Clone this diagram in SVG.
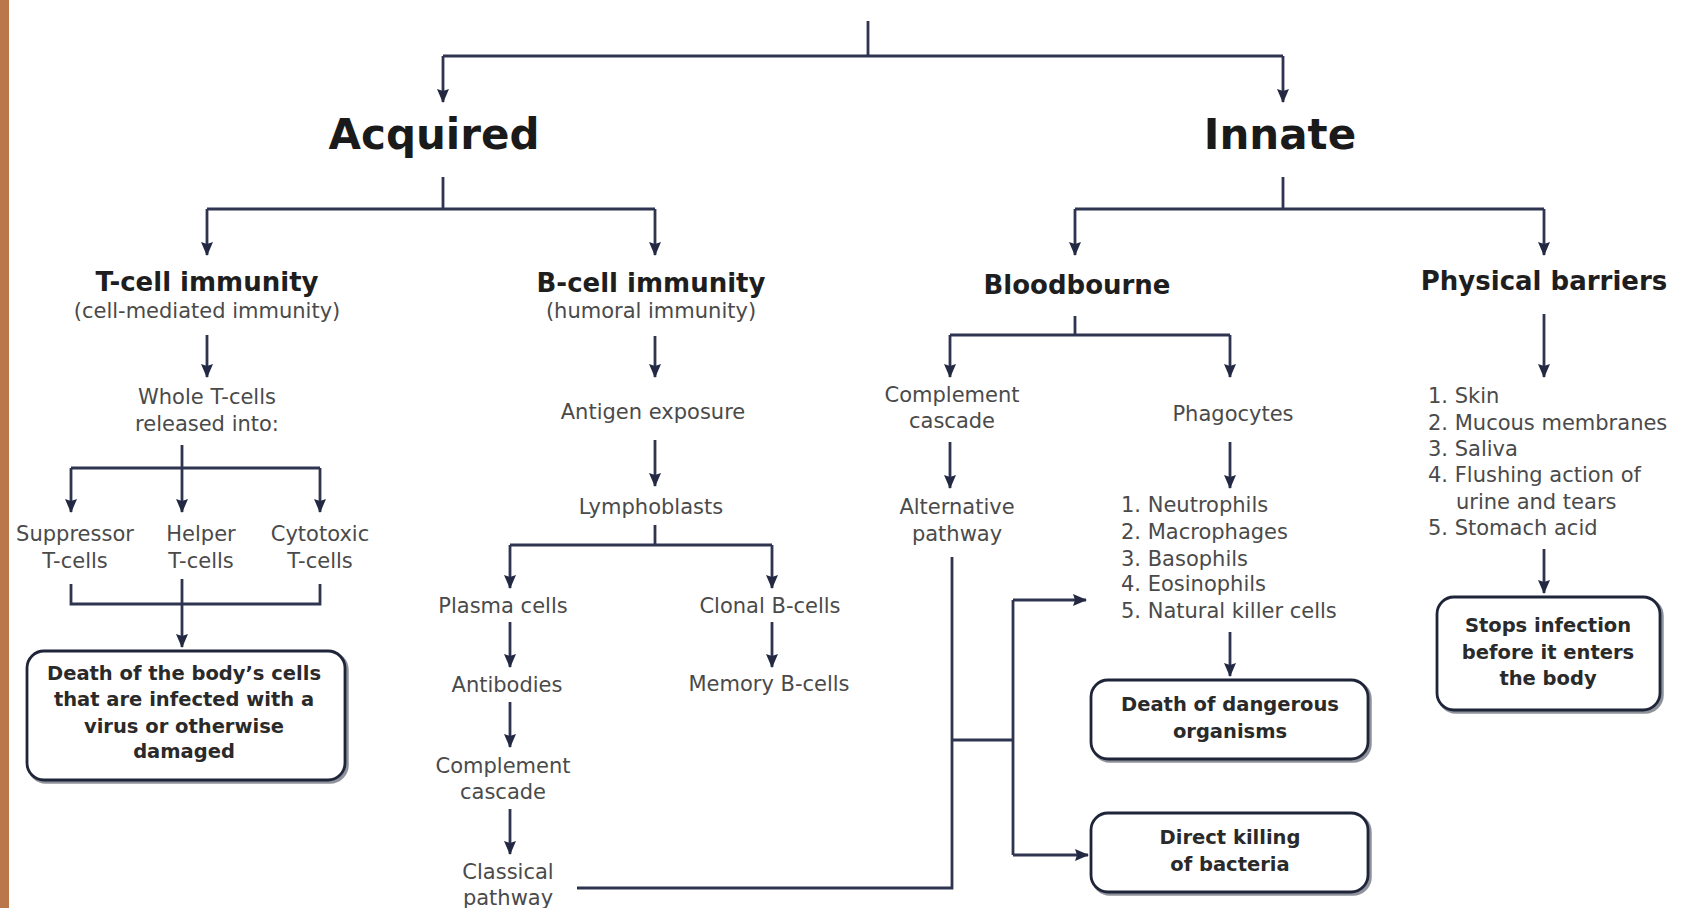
<svg xmlns="http://www.w3.org/2000/svg" width="1681" height="908" viewBox="0 0 1681 908">
<defs>
<marker id="ah" viewBox="0 0 14 12" refX="13" refY="6" markerWidth="14" markerHeight="12" markerUnits="userSpaceOnUse" orient="auto">
<path d="M0,0 L14,6 L0,12 L2,6 z" fill="#232943"/>
</marker>
<style>
.ln{fill:none;stroke:#2f3550;stroke-width:2.8}
.ar{fill:none;stroke:#2f3550;stroke-width:2.8;marker-end:url(#ah)}
.big{font-family:"DejaVu Sans",sans-serif;font-weight:bold;font-size:42px;fill:#1a1a1a;text-anchor:middle}
.hd{font-family:"DejaVu Sans",sans-serif;font-weight:bold;font-size:26px;fill:#1e1e1e;text-anchor:middle}
.tx{font-family:"DejaVu Sans",sans-serif;font-size:21px;fill:#4a4a4a;text-anchor:middle}
.ls{font-family:"DejaVu Sans",sans-serif;font-size:21px;fill:#4a4a4a}
.bx{font-family:"DejaVu Sans",sans-serif;font-weight:bold;font-size:19.5px;fill:#2a2a2a;text-anchor:middle}
.box{fill:#fff;stroke:#1f2538;stroke-width:2.8}
.sh{fill:none;stroke:#6a6d7a;stroke-width:3.5;opacity:0.75}
</style>
</defs>
<rect width="1681" height="908" fill="#ffffff"/>
<rect x="0" y="0" width="9" height="908" fill="#b9774a"/>

<g id="connectors">
<path class="ln" d="M868,21 V56 M443,56 H1283"/>
<path class="ar" d="M443,56 V102"/>
<path class="ar" d="M1283,56 V102"/>
<path class="ln" d="M443,177 V209 M207,209 H655"/>
<path class="ar" d="M207,209 V255"/>
<path class="ar" d="M655,209 V255"/>
<path class="ln" d="M1283,177 V209 M1075,209 H1544"/>
<path class="ar" d="M1075,209 V255"/>
<path class="ar" d="M1544,209 V255"/>
<path class="ar" d="M207,335 V377"/>
<path class="ln" d="M182,445 V468 M71,468 H320"/>
<path class="ar" d="M71,468 V512"/>
<path class="ar" d="M182,468 V512"/>
<path class="ar" d="M320,468 V512"/>
<path class="ln" d="M71,584 V604 H320 V584"/>
<path class="ar" d="M182,579 V647"/>
<path class="ar" d="M655,336 V377"/>
<path class="ar" d="M655,440 V486"/>
<path class="ln" d="M655,525 V545 M510,545 H772"/>
<path class="ar" d="M510,545 V588"/>
<path class="ar" d="M772,545 V588"/>
<path class="ar" d="M510,622 V667"/>
<path class="ar" d="M510,702 V747"/>
<path class="ar" d="M510,809 V854"/>
<path class="ar" d="M772,622 V667"/>
<path class="ln" d="M577,888 H952 V557 M952,740 H1013 M1013,600 V855"/>
<path class="ar" d="M1013,600 H1086"/>
<path class="ar" d="M1013,855 H1088"/>
<path class="ln" d="M1075,316 V335 M950,335 H1230"/>
<path class="ar" d="M950,335 V377"/>
<path class="ar" d="M1230,335 V377"/>
<path class="ar" d="M950,442 V488"/>
<path class="ar" d="M1230,442 V488"/>
<path class="ar" d="M1230,632 V676"/>
<path class="ar" d="M1544,314 V377"/>
<path class="ar" d="M1544,549 V593"/>
</g>

<g id="acquired"><text class="big" x="434" y="149">Acquired</text></g>
<g id="innate"><text class="big" x="1280" y="149">Innate</text></g>

<g id="tcell"><text class="hd" x="207" y="291">T-cell immunity</text><text class="tx" x="207" y="318">(cell-mediated immunity)</text></g>
<g id="bcell"><text class="hd" x="651" y="292">B-cell immunity</text><text class="tx" x="651" y="318">(humoral immunity)</text></g>
<g id="bloodbourne"><text class="hd" x="1077" y="294">Bloodbourne</text></g>
<g id="physical"><text class="hd" x="1544" y="290">Physical barriers</text></g>

<g id="whole"><text class="tx" x="207" y="404">Whole T-cells</text><text class="tx" x="207" y="431">released into:</text></g>
<g id="suppressor"><text class="tx" x="75" y="541">Suppressor</text><text class="tx" x="75" y="568">T-cells</text></g>
<g id="helper"><text class="tx" x="201" y="541">Helper</text><text class="tx" x="201" y="568">T-cells</text></g>
<g id="cytotoxic"><text class="tx" x="320" y="541">Cytotoxic</text><text class="tx" x="320" y="568">T-cells</text></g>

<g id="death-cells">
<rect class="sh" x="29" y="653" width="318" height="129" rx="17"/>
<rect class="box" x="27" y="651" width="318" height="129" rx="17"/>
<text class="bx" x="184" y="680">Death of the body’s cells</text>
<text class="bx" x="184" y="706">that are infected with a</text>
<text class="bx" x="184" y="733">virus or otherwise</text>
<text class="bx" x="184" y="758">damaged</text>
</g>

<g id="antigen"><text class="tx" x="653" y="419">Antigen exposure</text></g>
<g id="lymphoblasts"><text class="tx" x="651" y="514">Lymphoblasts</text></g>
<g id="plasma"><text class="tx" x="503" y="613">Plasma cells</text></g>
<g id="clonal"><text class="tx" x="770" y="613">Clonal B-cells</text></g>
<g id="antibodies"><text class="tx" x="507" y="692">Antibodies</text></g>
<g id="memory"><text class="tx" x="769" y="691">Memory B-cells</text></g>
<g id="complement-b"><text class="tx" x="503" y="773">Complement</text><text class="tx" x="503" y="799">cascade</text></g>
<g id="classical"><text class="tx" x="508" y="879">Classical</text><text class="tx" x="508" y="905">pathway</text></g>

<g id="complement-i"><text class="tx" x="952" y="402">Complement</text><text class="tx" x="952" y="428">cascade</text></g>
<g id="alternative"><text class="tx" x="957" y="514">Alternative</text><text class="tx" x="957" y="541">pathway</text></g>
<g id="phagocytes"><text class="tx" x="1233" y="421">Phagocytes</text></g>
<g id="phagocyte-list">
<text class="ls" x="1121" y="512">1. Neutrophils</text>
<text class="ls" x="1121" y="539">2. Macrophages</text>
<text class="ls" x="1121" y="566">3. Basophils</text>
<text class="ls" x="1121" y="591">4. Eosinophils</text>
<text class="ls" x="1121" y="618">5. Natural killer cells</text>
</g>
<g id="death-organisms">
<rect class="sh" x="1093" y="682" width="277" height="79" rx="17"/>
<rect class="box" x="1091" y="680" width="277" height="79" rx="17"/>
<text class="bx" x="1230" y="711">Death of dangerous</text>
<text class="bx" x="1230" y="738">organisms</text>
</g>
<g id="direct-killing">
<rect class="sh" x="1093" y="815" width="277" height="79" rx="17"/>
<rect class="box" x="1091" y="813" width="277" height="79" rx="17"/>
<text class="bx" x="1230" y="844">Direct killing</text>
<text class="bx" x="1230" y="871">of bacteria</text>
</g>

<g id="barrier-list">
<text class="ls" x="1428" y="403">1. Skin</text>
<text class="ls" x="1428" y="430">2. Mucous membranes</text>
<text class="ls" x="1428" y="456">3. Saliva</text>
<text class="ls" x="1428" y="482">4. Flushing action of</text>
<text class="ls" x="1456" y="509">urine and tears</text>
<text class="ls" x="1428" y="535">5. Stomach acid</text>
</g>
<g id="stops">
<rect class="sh" x="1439" y="599" width="223" height="113" rx="17"/>
<rect class="box" x="1437" y="597" width="223" height="113" rx="17"/>
<text class="bx" x="1548" y="632">Stops infection</text>
<text class="bx" x="1548" y="659">before it enters</text>
<text class="bx" x="1548" y="685">the body</text>
</g>
</svg>
